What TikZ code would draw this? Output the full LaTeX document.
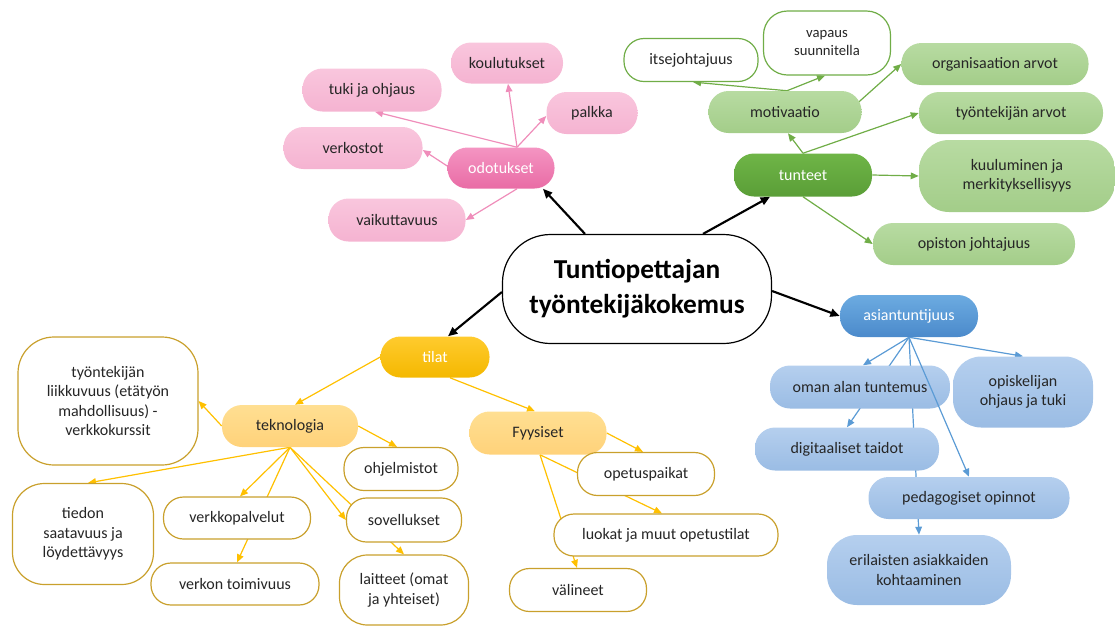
\documentclass[tikz,border=0pt]{standalone}
\usepackage{fontspec}
\setmainfont{Carlito}
\usetikzlibrary{arrows.meta,calc,backgrounds}
\definecolor{txt}{HTML}{262626}
\definecolor{pinkDt}{HTML}{F494C2}
\definecolor{pinkDb}{HTML}{E96CA5}
\definecolor{pinkLt}{HTML}{F9C6DD}
\definecolor{pinkLb}{HTML}{F5B3D1}
\definecolor{pinkA}{HTML}{EF8DBA}
\definecolor{greenDt}{HTML}{6FB547}
\definecolor{greenDb}{HTML}{5A9E37}
\definecolor{greenLt}{HTML}{B8DBA2}
\definecolor{greenLb}{HTML}{A3CD89}
\definecolor{greenA}{HTML}{70AD47}
\definecolor{blueDt}{HTML}{6CABE1}
\definecolor{blueDb}{HTML}{4B8ACB}
\definecolor{blueLt}{HTML}{B5CFEE}
\definecolor{blueLb}{HTML}{9ABCE4}
\definecolor{blueA}{HTML}{5B9BD5}
\definecolor{yelDt}{HTML}{FFCB2E}
\definecolor{yelDb}{HTML}{F4B800}
\definecolor{yelLt}{HTML}{FFDF92}
\definecolor{yelLb}{HTML}{FFD27A}
\definecolor{yelB}{HTML}{C9A02C}
\definecolor{yelA}{HTML}{FFC000}
\tikzset{
  base/.style={rounded corners=15pt, align=center, inner sep=1pt,
    font=\fontsize{12}{14.5}\selectfont, text=txt},
  sz/.style 2 args={minimum width=#1*0.75pt, minimum height=#2*0.75pt},
  rc/.style={rounded corners=#1*0.75pt},
  pinkD/.style={base, top color=pinkDt, bottom color=pinkDb, text=white},
  pinkL/.style={base, top color=pinkLt, bottom color=pinkLb},
  greenD/.style={base, top color=greenDt, bottom color=greenDb, text=white},
  greenL/.style={base, top color=greenLt, bottom color=greenLb},
  greenW/.style={base, fill=white, draw=greenA, line width=0.9pt},
  blueD/.style={base, top color=blueDt, bottom color=blueDb, text=white},
  blueL/.style={base, top color=blueLt, bottom color=blueLb},
  yelD/.style={base, top color=yelDt, bottom color=yelDb, text=white},
  yelL/.style={base, top color=yelLt, bottom color=yelLb},
  yelW/.style={base, fill=white, draw=yelB, line width=0.9pt},
  mainbox/.style={base, fill=white, draw=black, line width=0.9pt,
    font=\fontsize{20.5}{26.5}\selectfont\bfseries, text=black},
  blk/.style={draw=black, line width=1.6pt, -{Triangle[length=7pt,width=6pt]}},
  parr/.style={draw=pinkA, line width=0.9pt, -{Triangle[length=6pt,width=5pt]}},
  garr/.style={draw=greenA, line width=0.9pt, -{Triangle[length=6pt,width=5pt]}},
  barr/.style={draw=blueA, line width=0.9pt, -{Triangle[length=6pt,width=5pt]}},
  yarr/.style={draw=yelA, line width=0.9pt, -{Triangle[length=6pt,width=5pt]}},
}
\begin{document}
\begin{tikzpicture}[x=0.75pt, y=-0.75pt]
\useasboundingbox (0,0) rectangle (1115,626);
% centre
\node[mainbox, sz={269}{109}, rc=48] (c) at (637,289) {Tuntiopettajan\\työntekijäkokemus};
% pink
\node[pinkD, sz={107}{41}] (odot) at (501,168) {odotukset};
\node[pinkL, sz={112}{41}] (kou) at (507,63) {koulutukset};
\node[pinkL, sz={139}{43}] (tuki) at (372,90) {tuki ja ohjaus};
\node[pinkL, sz={91}{42}] (palkka) at (592,113) {palkka};
\node[pinkL, sz={139}{42}] (verk) at (353,148) {verkostot};
\node[pinkL, sz={137}{43}] (vaik) at (397,220) {vaikuttavuus};
% green
\node[greenD, sz={138}{43}] (tun) at (803,175) {tunteet};
\node[greenL, sz={153}{42}] (moti) at (785,112) {motivaatio};
\node[greenW, sz={134}{43}] (itse) at (691,60) {itsejohtajuus};
\node[greenW, sz={127}{64}, rc=24, font=\fontsize{11}{13.5}\selectfont] (vap) at (827,43) {vapaus\\suunnitella};
\node[greenL, sz={187}{42}] (org) at (995,64) {organisaation arvot};
\node[greenL, sz={184}{42}] (tarv) at (1011,113) {työntekijän arvot};
\node[greenL, sz={196}{72}, rc=30] (kuul) at (1017,176) {kuuluminen ja\\merkityksellisyys};
\node[greenL, sz={202}{42}] (opist) at (974,244) {opiston johtajuus};
% blue
\node[blueD, sz={138}{42}] (asi) at (909,316) {asiantuntijuus};
\node[blueL, sz={180}{43}] (oman) at (860,387) {oman alan tuntemus};
\node[blueL, sz={140}{71}, rc=28] (opis) at (1023,392) {opiskelijan\\ohjaus ja tuki};
\node[blueL, sz={184}{43}] (dig) at (847,449) {digitaaliset taidot};
\node[blueL, sz={201}{42}] (ped) at (969,498) {pedagogiset opinnot};
\node[blueL, sz={184}{70}, rc=30] (eril) at (919,570) {erilaisten asiakkaiden\\kohtaaminen};
% yellow
\node[yelD, sz={109}{41}] (tilat) at (435,357) {tilat};
\node[yelL, sz={136}{42}] (tekn) at (290,426) {teknologia};
\node[yelW, sz={180}{128}, rc=36] (liik) at (108,401) {työntekijän\\liikkuvuus (etätyön\\mahdollisuus) -\\verkkokurssit};
\node[yelW, sz={114}{43}] (ohj) at (401,469) {ohjelmistot};
\node[yelW, sz={141}{101}, rc=32] (tied) at (83,534) {tiedon\\saatavuus ja\\löydettävyys};
\node[yelW, sz={147}{42}] (vpal) at (237,518) {verkkopalvelut};
\node[yelW, sz={115}{44}] (sov) at (404,520) {sovellukset};
\node[yelW, sz={168}{42}] (vtoim) at (235,584) {verkon toimivuus};
\node[yelW, sz={129}{70}, rc=28] (lait) at (404,590) {laitteet (omat\\ja yhteiset)};
\node[yelL, sz={137}{43}] (fyy) at (538,433) {Fyysiset};
\node[yelW, sz={137}{43}] (ope) at (646,474) {opetuspaikat};
\node[yelW, sz={224}{42}] (luo) at (666,535) {luokat ja muut opetustilat};
\node[yelW, sz={137}{43}] (val) at (578,590) {välineet};

\begin{pgfonlayer}{background}
% black
\draw[blk] ($(c.north)+(-52,0)$) -- ($(odot.south)+(42,0)$);
\draw[blk] ($(c.north)+(66,0)$) -- ($(tun.south)+(-33,0)$);
\draw[blk] ($(c.west)+(0,3)$) -- ($(tilat.north)+(13,0)$);
\draw[blk] ($(c.east)+(0,2)$) -- (asi.west);
% pink
\draw[parr] ($(odot.north)+(16,0)$) -- ($(kou.south)+(1,0)$);
\draw[parr] ($(odot.north)+(16,0)$) -- ($(tuki.south)+(3,0)$);
\draw[parr] ($(odot.north)+(16,0)$) -- ($(palkka.west)+(0,3)$);
\draw[parr] ($(odot.west)+(0,-2)$) -- ($(verk.east)+(0,2)$);
\draw[parr] ($(odot.south)+(16,0)$) -- (vaik.east);
% green
\draw[garr] (tun.north) -- ($(moti.south)+(3,0)$);
\draw[garr] (tun.north) -- (tarv.west);
\draw[garr] ($(moti.east)+(-3,-10)$) -- (org.west);
\draw[garr] ($(moti.north)+(2,0)$) -- ($(itse.south)+(2,0)$);
\draw[garr] ($(moti.north)+(2,0)$) -- ($(vap.south)+(-2,0)$);
\draw[garr] (tun.east) -- (kuul.west);
\draw[garr] (tun.south) -- (opist.west);
% blue
\draw[barr] (asi.south) -- ($(oman.north)+(3,0)$);
\draw[barr] (asi.south) -- (dig.north);
\draw[barr] (asi.south) -- (eril.north);
\draw[barr] (asi.south) -- (opis.north);
% yellow
\draw[yarr] (tilat.west) -- ($(tekn.north)+(5,0)$);
\draw[yarr] ($(tilat.south)+(15,0)$) -- ($(fyy.north)+(-3,0)$);
\draw[yarr] (tekn.west) -- (liik.east);
\draw[yarr] (tekn.east) -- ($(ohj.north)+(-4,0)$);
\draw[yarr] (tekn.south) -- ($(tied.north)+(5,0)$);
\draw[yarr] (tekn.south) -- ($(vpal.north)+(3,0)$);
\draw[yarr] (tekn.south) -- ($(vtoim.north)+(2,0)$);
\draw[yarr] (tekn.south) -- (sov.west);
\draw[yarr] (tekn.south) -- (lait.north);
\draw[yarr] (fyy.east) -- ($(ope.north)+(-3,0)$);
\draw[yarr] ($(fyy.south)+(2,0)$) -- ($(luo.north)+(-4,0)$);
\draw[yarr] ($(fyy.south)+(2,0)$) -- ($(val.north)+(-1,0)$);
\end{pgfonlayer}
% drawn over a node
\draw[barr] (asi.south) -- (ped.north);
\end{tikzpicture}
\end{document}
